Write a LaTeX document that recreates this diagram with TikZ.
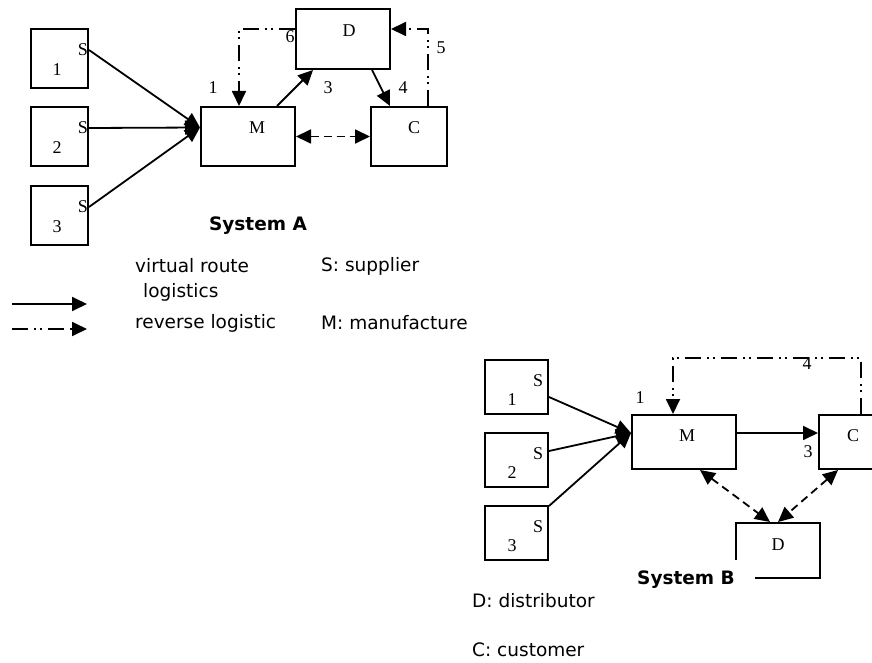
\documentclass[tikz,border=0pt]{standalone}
\usepackage{fontspec}
\setmainfont{Liberation Serif}
\newfontfamily\legendfont{DejaVu Sans}
\usetikzlibrary{arrows.meta}

\tikzset{
  box/.style={draw, line width=2pt, fill=white, inner sep=0pt},
  lab/.style={font=\fontsize{18}{20}\selectfont, inner sep=1pt},
  txt/.style={font=\legendfont\fontsize{18.5}{21}\selectfont, anchor=west, inner sep=0pt},
  flow/.style={-{Triangle[length=15pt,width=14pt]}, line width=1.8pt},
  back/.style={flow, dash pattern=on 16pt off 6pt on 2pt off 4pt on 2pt off 6pt},
  swap/.style={{Triangle[length=15pt,width=14pt]}-{Triangle[length=15pt,width=14pt]}, line width=1.8pt, dash pattern=on 8pt off 5pt}
}

\begin{document}
\begin{tikzpicture}[x=1pt, y=-1pt]
  \useasboundingbox (0,0) rectangle (872,663);

  % ---------- System A ----------
  \node[lab] (nA2) at (287,162) {2};

  % Suppliers
  \foreach \i/\y in {1/58.5, 2/136.5, 3/215.5}{
    \node[box, minimum width=57pt, minimum height=59pt] (sA\i) at (59.5,\y) {};
    \node[lab] (sAs\i) at (83,\y-8.5) {S};
    \node[lab] (sAn\i) at (57,\y+11) {\i};
  }

  % Manufacture, distributor, customer
  \node[box, minimum width=94pt, minimum height=59pt] (mA) at (248,136.5) {};
  \node[box, minimum width=94pt, minimum height=60pt] (dA) at (343,39) {};
  \node[box, minimum width=76pt, minimum height=59pt] (cA) at (409,136.5) {};
  \node[lab] (mAl) at (257,128) {M};
  \node[lab] (dAl) at (349,31) {D};
  \node[lab] (cAl) at (414,128) {C};

  % Route numbers
  \node[lab] (nA1) at (213,88) {1};
  \node[lab] (nA3) at (328,88) {3};
  \node[lab] (nA4) at (403,88) {4};
  \node[lab] (nA5) at (441,48) {5};
  \node[lab] (nA6) at (290,37) {6};

  % Flows
  \foreach \i in {1,2,3}
  \draw[flow] (sA\i.east |- sAs\i) -- ([yshift=9pt]mA.west);
  \draw[flow] ([xshift=29pt]mA.north) -- ([xshift=-30pt]dA.south);
  \draw[flow] ([xshift=29pt]dA.south) -- ([xshift=-19pt]cA.north);
  \draw[swap] (mA.east) -- (cA.west);
  \draw[back] ([yshift=10pt]dA.west) -| ([xshift=-9pt]mA.north);
  \draw[back] ([xshift=19pt]cA.north) |- ([yshift=10pt]dA.east);

  \node[font=\legendfont\bfseries\fontsize{18.5}{21}\selectfont] (titA) at (258,226) {System A};

  % ---------- Legend ----------
  \coordinate (lgA) at (12,304);
  \coordinate (lgB) at (87,304);
  \coordinate (lgC) at (12,329);
  \coordinate (lgD) at (87,329);
  \draw[flow] (lgA) -- (lgB);
  \draw[back] (lgC) -- (lgD);
  \node[txt] (tx1) at (135,266) {virtual route};
  \node[txt] (tx2) at (143,292) {logistics};
  \node[txt] (tx3) at (135,323) {reverse logistic};
  \node[txt] (tx4) at (321,266) {S: supplier};
  \node[txt] (tx5) at (321,323) {M: manufacture};

  % ---------- System B ----------
  \foreach \i/\y in {1/386.5, 2/460, 3/532.5}{
    \node[box, minimum width=63pt, minimum height=54pt] (sB\i) at (516.5,\y) {};
    \node[lab] (sBs\i) at (538,\y-6) {S};
    \node[lab] (sBn\i) at (512,\y+13) {\i};
  }

  \node[box, minimum width=104pt, minimum height=54pt] (mB) at (684,442) {};
  \node[box, minimum width=68pt, minimum height=54pt] (cB) at (853,442) {};
  \node[box, minimum width=84pt, minimum height=55pt] (dB) at (778,550.5) {};
  \node[lab] (mBl) at (687,436) {M};
  \node[lab] (cBl) at (853,436) {C};
  \node[lab] (dBl) at (778,545) {D};

  \node[lab] (nB1) at (640,398) {1};
  \node[lab] (nB3) at (808,452) {3};
  \node[lab] (nB4) at (807,364) {4};

  \coordinate (topB) at (780,358);
  \foreach \i/\s in {1/-10.5, 2/9, 3/26.5}
  \draw[flow] ([yshift=\s pt]sB\i.east) -- ([yshift=9pt]mB.west);
  \draw[flow] ([yshift=9pt]mB.east) -- ([yshift=9pt]cB.west);
  \draw[back] ([xshift=8pt]cB.north) |- (topB) -| ([xshift=-11pt]mB.north);
  \draw[swap] ([xshift=16pt]mB.south) -- ([xshift=-8pt]dB.north);
  \draw[swap] ([xshift=-15pt]cB.south) -- (dB.north);

  \node[font=\legendfont\bfseries\fontsize{18.5}{21}\selectfont, fill=white,
        inner xsep=20pt, inner ysep=11pt] (titB) at (686,580) {System B};

  \node[txt] (tx6) at (472,601) {D: distributor};
  \node[txt] (tx7) at (472,650) {C: customer};
\end{tikzpicture}
\end{document}
